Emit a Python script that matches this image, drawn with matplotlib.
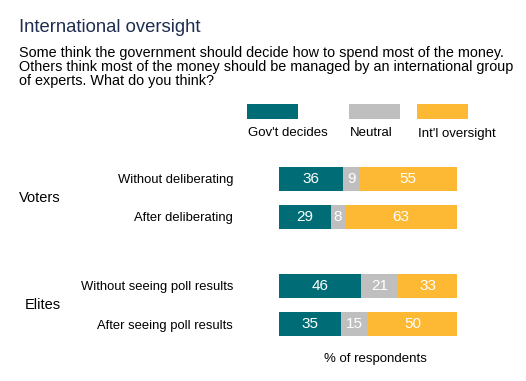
import matplotlib
matplotlib.use("Agg")
import matplotlib.pyplot as plt
from matplotlib.patches import Rectangle
from matplotlib.transforms import blended_transform_factory

plt.rcParams['font.family'] = ['Liberation Sans', 'DejaVu Sans']

categories = ["Without deliberating", "After deliberating",
              "Without seeing poll results", "After seeing poll results"]
groups = ["Voters", "Elites"]
series_names = ["Gov't decides", "Neutral", "Int'l oversight"]
govt = [36, 29, 46, 35]
neutral = [9, 8, 21, 15]
intl = [55, 63, 33, 50]
colors = ["#006c75", "#bfbfbf", "#fdb934"]

title = "International oversight"
subtitle_lines = ["Some think the government should decide how to spend most of the money.",
                  "Others think most of the money should be managed by an international group",
                  "of experts. What do you think?"]
xlabel = "% of respondents"

W, H = 526, 381
fig = plt.figure(figsize=(W / 100, H / 100), dpi=100)

ypos = [0, 1, 2.8, 3.8]
unit = 38.3
y0px = 178.7
top_px = y0px - 0.5 * unit
bot_px = y0px + 4.3 * unit
ax = fig.add_axes([279 / W, 1 - bot_px / H, 178 / W, (bot_px - top_px) / H])
ax.set_xlim(0, 100)
ax.set_ylim(4.3, -0.5)

left = [0] * len(govt)
for vals, col in zip([govt, neutral, intl], colors):
    bars = ax.barh(ypos, vals, left=left, height=0.63, color=col, edgecolor="none")
    for b, v, l in zip(bars, vals, left):
        ax.text(l + v / 2, b.get_y() + b.get_height() / 2, str(v),
                ha="center", va="center", color="white", fontsize=11)
    left = [a + b for a, b in zip(left, vals)]

ax.set_yticks(ypos)
ax.set_yticklabels(categories, fontsize=9.4)
ax.tick_params(axis="y", length=0, pad=33)
ax.set_xticks([])
for s in ax.spines.values():
    s.set_visible(False)

tr = blended_transform_factory(fig.transFigure, ax.transData)
ax.text(61 / W, 0.5, groups[0], transform=tr, ha="right", va="center", fontsize=10.5)
ax.text(61 / W, 3.3, groups[1], transform=tr, ha="right", va="center", fontsize=10.5)

ax.text(0.54, 1 - 359 / H, xlabel,
        transform=blended_transform_factory(ax.transAxes, fig.transFigure),
        ha="center", va="center", fontsize=9.5)

fig.text(19 / W, 1 - 31.7 / H, title, ha="left", va="baseline", fontsize=13.3, color="#1f2d50")
for i, line in enumerate(subtitle_lines):
    fig.text(19 / W, 1 - (56.7 + 13.9 * i) / H, line, ha="left", va="baseline",
             fontsize=10.4, color="black")

leg_x = [247, 349, 417]
for x, name, col in zip(leg_x, series_names, colors):
    fig.patches.append(Rectangle((x / W, 1 - 119 / H), 51 / W, 15 / H,
                                 transform=fig.transFigure, facecolor=col, edgecolor="none"))
    fig.text((x + 1) / W, 1 - 136.5 / H, name, ha="left", va="baseline", fontsize=9.5)

fig.savefig("out.png", dpi=100)
